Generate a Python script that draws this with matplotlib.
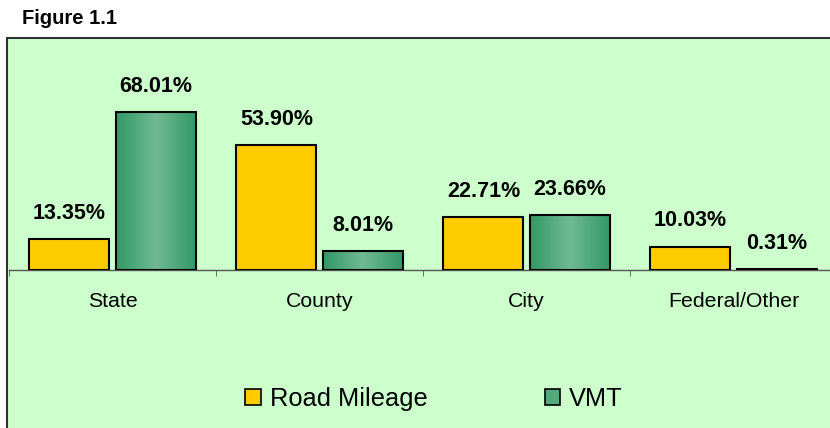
import numpy as np
import matplotlib
matplotlib.use("Agg")
import matplotlib.pyplot as plt
from matplotlib.patches import Rectangle, Patch
from matplotlib.colors import LinearSegmentedColormap

# Share of public roads, by owner
categories = ["State", "County", "City", "Federal/Other"]
road_mileage = [13.35, 53.90, 22.71, 10.03]
vmt = [68.01, 8.01, 23.66, 0.31]
series_names = ["Road Mileage", "VMT"]

plt.rcParams['font.family'] = ['Liberation Sans', 'DejaVu Sans']

YELLOW = "#FFCC00"
GREEN_DARK = "#339966"
GREEN_LIGHT = "#70BA92"
PANEL = "#CCFFCC"

fig = plt.figure(figsize=(8.3, 4.28), dpi=100)

# light green chart panel with dark border (runs off right and bottom)
panel = Rectangle((7 / 830, -0.05), 1.1, (428 - 38) / 428 + 0.05,
                  transform=fig.transFigure, facecolor=PANEL,
                  edgecolor="#333333", linewidth=1.5, zorder=-1)
fig.patches.append(panel)

fig.text(22 / 830, 1 - 18 / 428, "Figure 1.1", fontsize=14.5, fontweight="bold",
         va="center", ha="left")

ax = fig.add_axes([9 / 830, (428 - 270) / 428, 828 / 830, 185.6 / 428])
ax.set_facecolor("none")

x = np.arange(len(categories))
w = 0.386
off = 0.208

ax.bar(x - off, road_mileage, w, color=YELLOW, edgecolor="black",
       linewidth=1.5, zorder=3)
green_bars = ax.bar(x + off, vmt, w, facecolor="none", edgecolor="black",
                    linewidth=1.5, zorder=4)

# green bars have a light stripe down the middle
cmap = LinearSegmentedColormap.from_list(
    "vmt", [GREEN_DARK, GREEN_LIGHT, GREEN_DARK])
grad = np.linspace(0, 1, 64).reshape(1, -1)
for b in green_bars:
    im = ax.imshow(grad, cmap=cmap, aspect="auto", zorder=3,
                   extent=(b.get_x(), b.get_x() + b.get_width(), 0, b.get_height()))
    im.set_clip_path(b)

for xi, v in zip(x - off, road_mileage):
    ax.annotate(f"{v:.2f}%", (xi, v), xytext=(0, 11), textcoords="offset points",
                ha="center", va="bottom", fontsize=15.5, fontweight="bold",
                annotation_clip=False)
for xi, v in zip(x + off, vmt):
    ax.annotate(f"{v:.2f}%", (xi, v), xytext=(0, 11), textcoords="offset points",
                ha="center", va="bottom", fontsize=15.5, fontweight="bold",
                annotation_clip=False)

ax.set_xlim(-0.5, len(categories) - 0.5)
ax.set_ylim(0, 80)

for s in ["top", "right", "left"]:
    ax.spines[s].set_visible(False)
ax.spines["bottom"].set_color("#555555")
ax.spines["bottom"].set_linewidth(1.0)
ax.set_yticks([])

ax.set_xticks(x)
ax.set_xticklabels(categories, fontsize=15.3)
ax.tick_params(axis="x", which="major", length=0, pad=16)
ax.set_xticks(np.arange(len(categories) + 1) - 0.5, minor=True)
ax.tick_params(axis="x", which="minor", length=4, color="#555555")

handles = [Patch(facecolor=YELLOW, edgecolor="black", linewidth=1.2),
           Patch(facecolor="#55AA7D", edgecolor="black", linewidth=1.2)]
fig.legend(handles, series_names, loc="center", bbox_to_anchor=(0.523, 0.068),
           ncol=2, frameon=False, fontsize=18.3, handlelength=0.6,
           handleheight=0.6, handletextpad=0.36, columnspacing=4.6)

fig.savefig("out.png", dpi=100)
